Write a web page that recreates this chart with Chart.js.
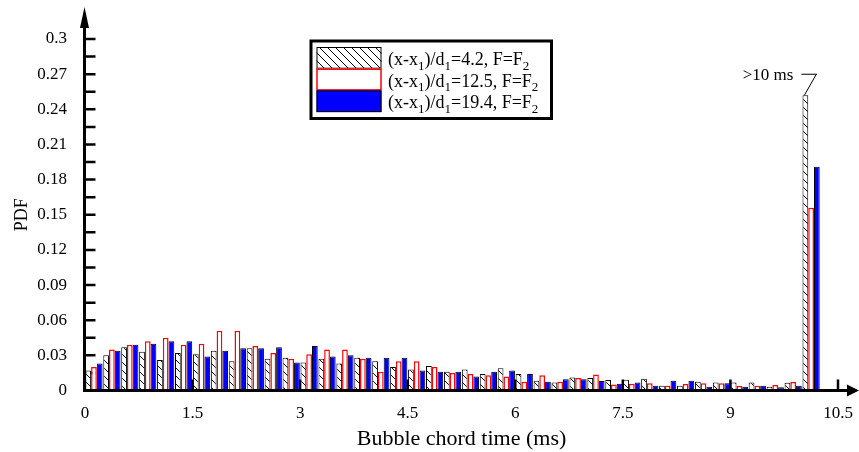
<!DOCTYPE html>
<html>
<head>
<meta charset="utf-8">
<script src="https://cdn.jsdelivr.net/npm/chart.js@4.4.1/dist/chart.umd.min.js"></script>
<style>
  html, body { margin: 0; padding: 0; background: #fff; }
  #wrap { width: 859px; height: 452px; }
</style>
</head>
<body>
<div id="wrap"><canvas id="c" width="859" height="452"></canvas></div>
<script>
// Bin centres (ms); the last bin collects every chord longer than 10 ms
const binCenters = [
  0.125, 0.375, 0.625, 0.875, 1.125, 1.375, 1.625, 1.875, 2.125, 2.375,
  2.625, 2.875, 3.125, 3.375, 3.625, 3.875, 4.125, 4.375, 4.625, 4.875,
  5.125, 5.375, 5.625, 5.875, 6.125, 6.375, 6.625, 6.875, 7.125, 7.375,
  7.625, 7.875, 8.125, 8.375, 8.625, 8.875, 9.125, 9.375, 9.625, 9.875,
  10.125
];

// Legend labels; "_" marks a one-character subscript
const seriesLabels = [
  '(x-x_1)/d_1=4.2, F=F_2',
  '(x-x_1)/d_1=12.5, F=F_2',
  '(x-x_1)/d_1=19.4, F=F_2'
];

// PDF of bubble chord time at the three stations
const pdfNear = [
  0.017, 0.030, 0.037, 0.033, 0.026, 0.032, 0.031, 0.034, 0.025, 0.036,
  0.027, 0.028, 0.024, 0.027, 0.023, 0.028, 0.025, 0.020, 0.018, 0.021,
  0.016, 0.018, 0.014, 0.019, 0.014, 0.0083, 0.0069, 0.011, 0.0106, 0.0089,
  0.0092, 0.010, 0.0041, 0.0041, 0.0075, 0.0069, 0.0069, 0.0069, 0.0033, 0.0066,
  0.252
];
const pdfMid = [
  0.020, 0.035, 0.039, 0.042, 0.045, 0.039, 0.040, 0.051, 0.051, 0.038,
  0.032, 0.027, 0.031, 0.035, 0.035, 0.027, 0.016, 0.025, 0.025, 0.020,
  0.015, 0.014, 0.013, 0.012, 0.0075, 0.013, 0.0075, 0.0106, 0.0137, 0.0052,
  0.0058, 0.0061, 0.0041, 0.0055, 0.0061, 0.0061, 0.0038, 0.0041, 0.0047, 0.0072,
  0.156
];
const pdfFar = [
  0.023, 0.034, 0.039, 0.040, 0.042, 0.042, 0.029, 0.034, 0.036, 0.036,
  0.037, 0.024, 0.038, 0.029, 0.030, 0.028, 0.028, 0.028, 0.017, 0.016,
  0.016, 0.012, 0.016, 0.017, 0.014, 0.0075, 0.0095, 0.0095, 0.0081, 0.0058,
  0.0069, 0.0041, 0.0083, 0.0083, 0.0033, 0.0061, 0.0033, 0.0041, 0.0027, 0.0041,
  0.191
];

// Axis ticks and texts
const xTicks = [0, 1.5, 3, 4.5, 6, 7.5, 9, 10.5];
const yTicks = [0, 0.03, 0.06, 0.09, 0.12, 0.15, 0.18, 0.21, 0.24, 0.27, 0.3];
const xTitle = 'Bubble chord time (ms)';
const yTitle = 'PDF';
const overflowNote = '>10 ms';

const SERIF = '"Liberation Serif", "Times New Roman", serif';

function hatchPattern(ctx, period) {
  const p = document.createElement('canvas');
  p.width = period; p.height = period;
  const g = p.getContext('2d');
  g.fillStyle = '#fff';
  g.fillRect(0, 0, period, period);
  g.strokeStyle = '#000';
  g.lineWidth = 1;
  g.beginPath();
  g.moveTo(-2, -2); g.lineTo(period + 2, period + 2);
  g.moveTo(-2, period - 2); g.lineTo(2, period + 2);
  g.moveTo(period - 2, -2); g.lineTo(period + 2, 2);
  g.stroke();
  return ctx.createPattern(p, 'repeat');
}

// split "a_1b" into runs of normal / subscript text
function runs(text) {
  const out = [];
  let buf = '';
  for (let i = 0; i < text.length; i++) {
    if (text[i] === '_' && i + 1 < text.length) {
      if (buf) { out.push({ t: buf, sub: false }); buf = ''; }
      out.push({ t: text[i + 1], sub: true });
      i++;
    } else {
      buf += text[i];
    }
  }
  if (buf) out.push({ t: buf, sub: false });
  return out;
}

function drawRich(ctx, text, x, baseline, size) {
  let cx = x;
  ctx.textAlign = 'left';
  ctx.textBaseline = 'alphabetic';
  runs(text).forEach(r => {
    if (r.sub) {
      ctx.font = Math.round(size * 0.72) + 'px ' + SERIF;
      ctx.fillText(r.t, cx, baseline + size * 0.25);
    } else {
      ctx.font = size + 'px ' + SERIF;
      ctx.fillText(r.t, cx, baseline);
    }
    cx += ctx.measureText(r.t).width;
  });
}

const canvas = document.getElementById('c');
const ctx = canvas.getContext('2d');
const hatchFill = hatchPattern(ctx, 8);

const decor = {
  id: 'decor',
  beforeDatasetsDraw(chart) {
    const c = chart.ctx, xs = chart.scales.x, ys = chart.scales.y;
    const x0 = xs.getPixelForValue(0) - 0.5, y0 = ys.getPixelForValue(0);
    c.save();
    c.strokeStyle = '#000';
    c.lineWidth = 2.5;
    c.beginPath();
    ys.ticks.forEach((t, i) => {
      const vals = [t.value];
      if (i < ys.ticks.length - 1) vals.push((t.value + ys.ticks[i + 1].value) / 2);
      vals.forEach(v => {
        const py = ys.getPixelForValue(v);
        c.moveTo(x0, py); c.lineTo(x0 + 11, py);
      });
    });
    xs.ticks.forEach(t => {
      const px = xs.getPixelForValue(t.value);
      c.moveTo(px, y0); c.lineTo(px, y0 - 11);
    });
    c.stroke();
    c.restore();
  },
  afterDraw(chart) {
    const c = chart.ctx, xs = chart.scales.x, ys = chart.scales.y, area = chart.chartArea;
    const x0 = xs.getPixelForValue(0) - 0.5, y0 = ys.getPixelForValue(0);
    c.save();
    // axes with arrow heads
    c.strokeStyle = '#000';
    c.fillStyle = '#000';
    c.lineWidth = 3;
    c.beginPath();
    c.moveTo(x0, y0); c.lineTo(848, y0);
    c.moveTo(x0, y0 + 1.5); c.lineTo(x0, 27);
    c.stroke();
    c.beginPath();
    c.moveTo(x0, 7); c.lineTo(x0 + 4.5, 28); c.lineTo(x0 - 4.5, 28); c.closePath();
    c.fill();
    c.beginPath();
    c.moveTo(859, y0); c.lineTo(847, y0 - 6); c.lineTo(847, y0 + 6); c.closePath();
    c.fill();

    // axis titles
    c.textAlign = 'center';
    c.textBaseline = 'alphabetic';
    c.font = '22px ' + SERIF;
    c.fillText(xTitle, (area.left + area.right) / 2, 445);
    c.save();
    c.translate(27, (area.top + area.bottom) / 2);
    c.rotate(-Math.PI / 2);
    c.font = '18px ' + SERIF;
    c.fillText(yTitle, 0, 0);
    c.restore();

    // legend
    const lx = 311, ly = 41, lw = 240.5, lh = 77.5;
    c.lineWidth = 3;
    c.strokeStyle = '#000';
    c.fillStyle = '#fff';
    c.fillRect(lx, ly, lw, lh);
    c.strokeRect(lx, ly, lw, lh);
    const sx = 316.5, sw = 65, rowH = 21.7, sy0 = 47;
    const swatch = [
      { fill: hatchFill, stroke: '#000', w: 1 },
      { fill: '#fff', stroke: '#ff0000', w: 1.5 },
      { fill: '#0000ff', stroke: '#000', w: 1 }
    ];
    seriesLabels.forEach((lab, i) => {
      const sy = sy0 + i * rowH;
      c.fillStyle = swatch[i].fill;
      c.fillRect(sx, sy, sw, rowH);
      c.lineWidth = swatch[i].w;
      c.strokeStyle = swatch[i].stroke;
      c.strokeRect(sx + 0.5, sy + 0.5, sw - 1, rowH - 1);
      c.fillStyle = '#000';
      drawRich(c, lab, 388, sy + 18, 18);
    });

    // note on the overflow bin
    const meta = chart.getDatasetMeta(0);
    const bar = meta.data[meta.data.length - 1];
    const bx = bar.x, by = bar.y;
    c.strokeStyle = '#000';
    c.lineWidth = 1;
    c.beginPath();
    c.moveTo(bx - 1, by);
    c.lineTo(bx + 11, by - 21);
    c.moveTo(bx - 4, by - 21);
    c.lineTo(bx + 11.5, by - 21);
    c.stroke();
    c.fillStyle = '#000';
    c.font = '17px ' + SERIF;
    c.textAlign = 'right';
    c.textBaseline = 'middle';
    c.fillText(overflowNote, bx - 12, by - 20);
    c.restore();
  }
};

const toPoints = arr => binCenters.map((x, i) => ({ x: x, y: arr[i] }));
const fmt = v => String(+Number(v).toFixed(2));
const tickFont = { family: SERIF, size: 17 };

new Chart(ctx, {
  type: 'bar',
  data: {
    datasets: [
      { label: seriesLabels[0], data: toPoints(pdfNear), backgroundColor: hatchFill, borderColor: '#000', borderWidth: 1 },
      { label: seriesLabels[1], data: toPoints(pdfMid), backgroundColor: '#fff', borderColor: '#ff0000', borderWidth: 1.5 },
      { label: seriesLabels[2], data: toPoints(pdfFar), backgroundColor: '#0000ff', borderColor: '#000', borderWidth: 1 }
    ]
  },
  options: {
    responsive: false,
    animation: false,
    devicePixelRatio: 1,
    layout: { padding: { top: 39, right: 21, left: 0, bottom: 0 } },
    datasets: { bar: { categoryPercentage: 0.96, barPercentage: 1.0, borderSkipped: 'start' } },
    plugins: { legend: { display: false }, tooltip: { enabled: false } },
    scales: {
      x: {
        type: 'linear', min: 0, max: 10.5, offset: false,
        grid: { display: false }, border: { display: false },
        afterBuildTicks: s => { s.ticks = xTicks.map(v => ({ value: v })); },
        afterFit: s => { s.height = 61.5; },
        ticks: { autoSkip: false, maxRotation: 0, color: '#000', font: tickFont, padding: 5, callback: fmt }
      },
      y: {
        type: 'linear', min: 0, max: 0.3,
        grid: { display: false }, border: { display: false },
        afterBuildTicks: s => { s.ticks = yTicks.map(v => ({ value: v })); },
        afterFit: s => { s.width = 85; },
        ticks: { autoSkip: false, color: '#000', font: tickFont, padding: 10, callback: fmt }
      }
    }
  },
  plugins: [decor]
});
</script>
</body>
</html>
